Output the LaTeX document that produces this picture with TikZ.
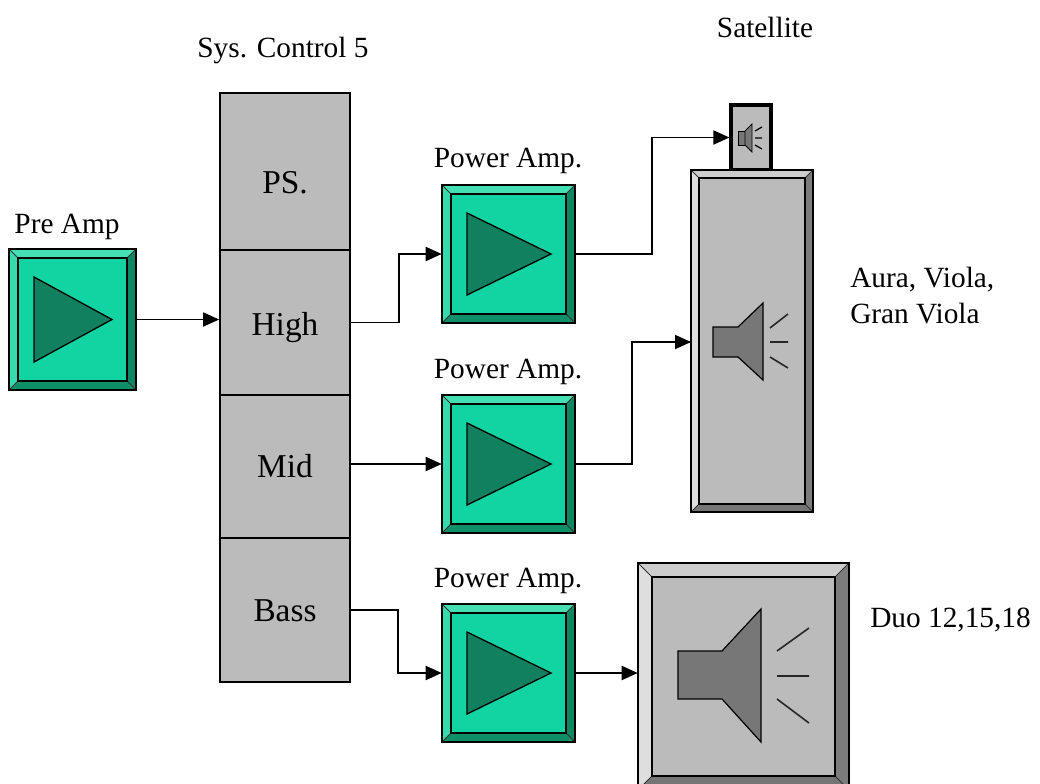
\documentclass[tikz,border=0pt]{standalone}
\usepackage{fontspec}
\setmainfont{Liberation Serif}
\usetikzlibrary{arrows.meta,fit}
\definecolor{gfill}{HTML}{12D3A2}
\definecolor{gtop}{HTML}{45DFB4}
\definecolor{gleft}{HTML}{36DAAC}
\definecolor{gright}{HTML}{0E8662}
\definecolor{gbottom}{HTML}{0F8F68}
\definecolor{gtri}{HTML}{10805F}
\definecolor{sfill}{HTML}{BBBBBB}
\definecolor{stop}{HTML}{CDCDCD}
\definecolor{sleft}{HTML}{DEDEDE}
\definecolor{sright}{HTML}{7C7C7C}
\definecolor{sbottom}{HTML}{757575}
\definecolor{spk}{HTML}{777777}
\tikzset{
  wire/.style={line width=1.4pt, -{Triangle[length=12pt,width=10.5pt]}},
  cell/.style={draw=black, line width=1.3pt, fill=sfill},
  lbl/.style={font=\fontsize{22}{26}\selectfont, inner sep=0pt, anchor=base},
  celltxt/.style={font=\fontsize{25}{30}\selectfont, inner sep=0pt, anchor=base},
  spkicon/.style={fill=spk, draw=black, line width=0.9pt},
  spkline/.style={line width=1.2pt, draw=black!85},
}
% name, x1, y1, x2, y2, bevel, colour prefix
\newcommand\bevelbox[7]{%
  \fill[#7top] (#2,#3) -- (#4,#3) -- ({#4-#6},{#3+#6}) -- ({#2+#6},{#3+#6}) -- cycle;
  \fill[#7left] (#2,#3) -- ({#2+#6},{#3+#6}) -- ({#2+#6},{#5-#6}) -- (#2,#5) -- cycle;
  \fill[#7right] (#4,#3) -- (#4,#5) -- ({#4-#6},{#5-#6}) -- ({#4-#6},{#3+#6}) -- cycle;
  \fill[#7bottom] (#2,#5) -- (#4,#5) -- ({#4-#6},{#5-#6}) -- ({#2+#6},{#5-#6}) -- cycle;
  \draw[line width=0.6pt, black!80] (#2,#3) -- ({#2+#6},{#3+#6}) (#4,#3) -- ({#4-#6},{#3+#6})
     (#2,#5) -- ({#2+#6},{#5-#6}) (#4,#5) -- ({#4-#6},{#5-#6});
  \draw[line width=1.1pt, fill=#7fill] ({#2+#6},{#3+#6}) rectangle ({#4-#6},{#5-#6});
  \draw[line width=1.2pt] (#2,#3) rectangle (#4,#5);
  \path (#2,#3) coordinate (#1nw) (#4,#5) coordinate (#1se);
  \node[fit=(#1nw)(#1se), inner sep=0pt] (#1) {};
}
\newcommand\ampbox[5]{%
  \bevelbox{#1}{#2}{#3}{#4}{#5}{9}{g}
  \draw[fill=gtri, line width=1pt] ({#2+25},{#3+28}) -- ({#4-24},{(#3+#5)/2}) -- ({#2+25},{#5-28}) -- cycle;
}
\begin{document}
\begin{tikzpicture}[x=0.75pt,y=-0.75pt]
\useasboundingbox (0,0) rectangle (1040,783);
\clip (0,0) rectangle (1040,783);
\fill[white] (0,0) rectangle (1040,783);

% Pre amp
\ampbox{pre}{9}{249}{136}{390}
\node[lbl] (prel) at (67,233) {Pre Amp};

% System control column
\node[lbl] (sysl) at (283,57) {Sys. Control 5};
\path (220,93) coordinate (psnw) (350,250) coordinate (psse)
      (220,250) coordinate (hsnw) (350,395) coordinate (hsse)
      (220,395) coordinate (msnw) (350,538) coordinate (msse)
      (220,538) coordinate (bsnw) (350,682) coordinate (bsse);
\node[cell, fit=(psnw)(psse), inner sep=0pt] (ps) {};
\node[cell, fit=(hsnw)(hsse), inner sep=0pt] (hs) {};
\node[cell, fit=(msnw)(msse), inner sep=0pt] (ms) {};
\node[cell, fit=(bsnw)(bsse), inner sep=0pt] (bs) {};
\node[celltxt] (pst) at (285,193) {PS.};
\node[celltxt] (hst) at (285,335) {High};
\node[celltxt] (mst) at (285,477) {Mid};
\node[celltxt] (bst) at (285,621) {Bass};

% Power amps
\ampbox{ampa}{442}{185}{575}{323}
\ampbox{ampb}{442}{395}{575}{533}
\ampbox{ampc}{442}{604}{575}{742}
\node[lbl] (ampal) at (508,167) {Power Amp.};
\node[lbl] (ampbl) at (508,378) {Power Amp.};
\node[lbl] (ampcl) at (508,587) {Power Amp.};

% Satellite
\node[lbl] (satl) at (765,37) {Satellite};
\path (731,105) coordinate (satnw) (771,170) coordinate (satse);
\node[fit=(satnw)(satse), inner sep=0pt, draw=black, line width=2.4pt, fill=sfill] (sat) {};
\fill[spkicon, line width=0.6pt] (738,131) rectangle (745,145);
\fill[spkicon, line width=0.6pt] (745,131) -- (752,124) -- (752,152) -- (745,145) -- cycle;
\draw[line width=0.9pt] (755,131) -- (762,127) (755,138) -- (762,138) (755,145) -- (762,149);

% Tall speaker
\bevelbox{tall}{691}{170}{813}{512}{8}{s}
\draw[spkicon] (713,327) -- (738,327) -- (763,303) -- (763,380) -- (738,357) -- (713,357) -- cycle;
\draw[spkline] (770,328) -- (788,314) (770,342) -- (788,342) (770,357) -- (788,368);
\node[lbl, anchor=base west] (aural) at (850,287) {Aura, Viola,};
\node[lbl, anchor=base west] (granl) at (850,323) {Gran Viola};

% Duo speaker
\bevelbox{duo}{638}{563}{849}{790}{14}{s}
\draw[spkicon] (678,651) -- (722,651) -- (761,609) -- (761,742) -- (722,699) -- (678,699) -- cycle;
\draw[spkline] (777,651) -- (809,628) (777,676) -- (809,676) (777,699) -- (809,723);
\node[lbl, anchor=base west] (duol) at (870,627) {Duo 12,15,18};

% Connectors
\draw[wire] (pre.east) -- (pre.east -| hs.west);
\draw[wire] (hs.east) -- ++(48,0) |- (ampa.west);
\draw[wire] (ms.east |- ampb.west) -- (ampb.west);
\draw[wire] (bs.east) -- ++(47,0) |- (ampc.west);
\draw[wire] (ampa.east) -- ++(77,0) |- (sat.west);
\coordinate (tallin) at (691,342);
\draw[wire] (ampb.east) -- ++(57,0) |- (tallin);
\draw[wire] (ampc.east) -- (ampc.east -| duo.west);
\end{tikzpicture}
\end{document}
